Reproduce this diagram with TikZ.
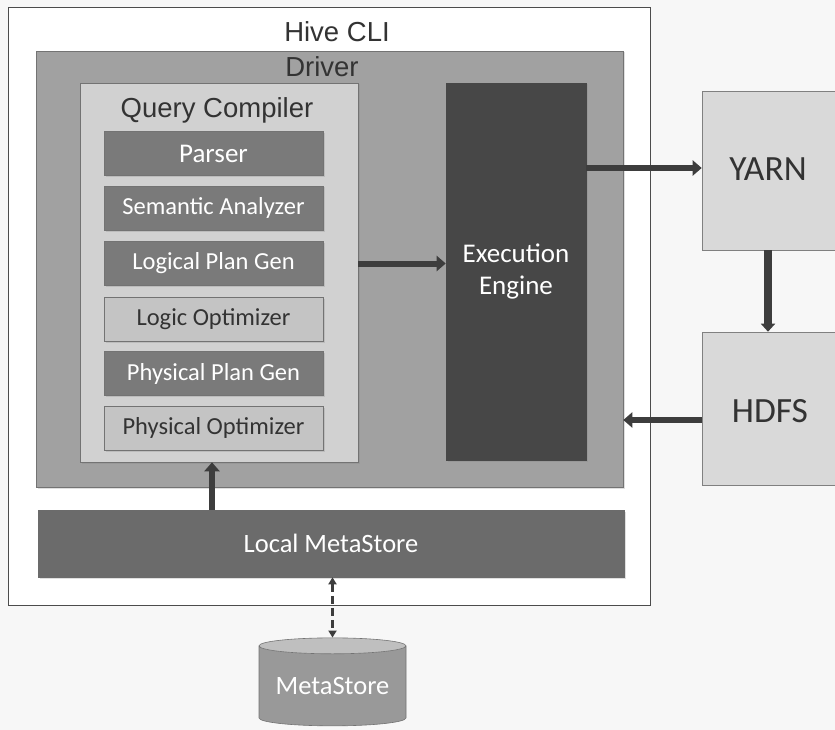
\documentclass[tikz,border=0pt]{standalone}
\usepackage{fontspec}
\setmainfont{Carlito}
\newfontfamily\arialf{Liberation Sans}
\usetikzlibrary{arrows.meta,shapes.geometric,shadows,calc}

\definecolor{paper}{gray}{0.97}
\definecolor{inkdark}{gray}{0.2}
\definecolor{drivergray}{gray}{0.63}
\definecolor{qcgray}{gray}{0.82}
\definecolor{stepdark}{gray}{0.48}
\definecolor{steplight}{gray}{0.77}
\definecolor{enginegray}{gray}{0.28}
\definecolor{clustergray}{gray}{0.85}
\definecolor{storegray}{gray}{0.42}
\definecolor{cylbody}{gray}{0.6}
\definecolor{cyltop}{gray}{0.75}
\definecolor{arrowgray}{gray}{0.24}

\tikzset{
  box/.style={rectangle, inner sep=0pt, draw=black!55, line width=0.6pt},
  softshadow/.style={drop shadow={opacity=0.25, shadow xshift=1.5pt, shadow yshift=-1.5pt}},
  stagebox/.style={box, softshadow, minimum width=219, minimum height=44, font=\fontsize{24.5}{26}\selectfont},
  stepdarkbox/.style={stagebox, fill=stepdark, text=white},
  steplightbox/.style={stagebox, fill=steplight, text=inkdark},
  title/.style={text=inkdark, font=\arialf\fontsize{27.5}{30}\selectfont, inner sep=0pt, anchor=base},
  flow/.style={draw=arrowgray, line width=6pt, -{Triangle[length=9pt,width=15pt]}},
}

\begin{document}
\begin{tikzpicture}[x=1pt,y=-1pt]
  \useasboundingbox[fill=paper] (0,0) rectangle (835,730);

  % outer Hive CLI frame
  \node[box, draw=black!70, fill=white, minimum width=642, minimum height=598] (cli) at (329,306) {};
  \node[title] (clititle) at (337,42) {Hive CLI};

  % driver
  \node[box, softshadow, fill=drivergray, minimum width=587, minimum height=436] (driver) at (329.5,269) {};
  \node[title] (drivertitle) at (322,77) {Driver};

  % query compiler with its stages
  \node[box, softshadow, fill=qcgray, minimum width=278, minimum height=379] (qc) at (219,272.5) {};
  \node[title] (qctitle) at (217,118) {Query Compiler};

  \node[stepdarkbox, font=\fontsize{27}{28}\selectfont] (parser) at (213.5,153.5) {Parser};
  \node[stepdarkbox]  (sem)     at (213.5,208)   {Semantic Analyzer};
  \node[stepdarkbox]  (lpg)     at (213.5,263.5) {Logical Plan Gen};
  \node[steplightbox] (lopt)    at (213.5,319)   {Logic Optimizer};
  \node[stepdarkbox]  (ppg)     at (213.5,373.5) {Physical Plan Gen};
  \node[steplightbox] (popt)    at (213.5,428)   {Physical Optimizer};

  % execution engine
  \node[box, softshadow, fill=enginegray, draw=enginegray, text=white, minimum width=140, minimum height=377,
        align=center, font=\fontsize{27}{32}\selectfont] (exec) at (516,271.5) {Execution\\Engine};

  % cluster services
  \node[box, fill=clustergray, draw=black!50, minimum width=150, minimum height=159] (yarn) at (777,170.5) {};
  \node[text=inkdark, font=\fontsize{35.5}{38}\selectfont, inner sep=0pt] (yarntext) at (768,169) {YARN};
  \node[box, fill=clustergray, draw=black!50, minimum width=150, minimum height=153] (hdfs) at (777,408.5) {};
  \node[text=inkdark, font=\fontsize{35.5}{38}\selectfont, inner sep=0pt] (hdfstext) at (770,411) {HDFS};

  % local metastore
  \node[box, softshadow, fill=storegray, draw=storegray, text=white, minimum width=586, minimum height=67,
        font=\fontsize{26.5}{28}\selectfont] (lms) at (331,543.5) {Local MetaStore};

  % external metastore database
  \node[cylinder, shape border rotate=90, aspect=0.14, draw=black!55, line width=0.6pt,
        cylinder uses custom fill, cylinder body fill=cylbody, cylinder end fill=cyltop,
        minimum width=147, minimum height=88, inner sep=0pt, text=white,
        font=\fontsize{26.5}{28}\selectfont] (ms) at (332.5,686) {MetaStore};

  % connectors
  \coordinate (yexec) at (0,168);
  \coordinate (yback) at (0,420);
  \coordinate (xlms) at (212,0);
  \draw[flow] (qc.east |- lpg) -- (exec.west |- lpg);
  \draw[flow] (exec.east |- yexec) -- (yarn.west |- yexec);
  \draw[flow, line width=8pt, -{Triangle[length=8pt,width=14pt]}] (yarntext |- yarn.south) -- (yarntext |- hdfs.north);
  \draw[flow] (hdfs.west |- yback) -- (driver.east |- yback);
  \draw[flow] (xlms |- lms.north) -- (xlms |- qc.south);
  \draw[draw=arrowgray, line width=2.5pt, dash pattern=on 8pt off 4pt,
        {Triangle[length=7pt,width=8pt]}-{Triangle[length=7pt,width=8pt]}]
    (ms.top |- lms.south) -- (ms.top);
\end{tikzpicture}
\end{document}
